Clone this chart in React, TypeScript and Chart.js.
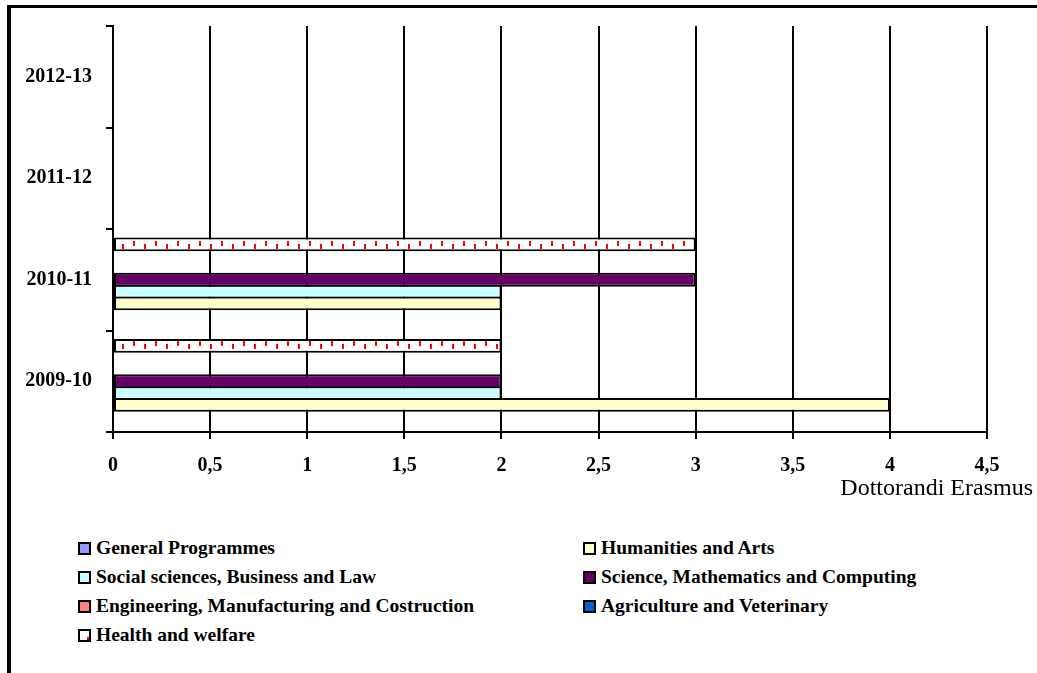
import React, { useEffect, useRef } from 'react';
import { Chart, registerables } from 'chart.js';

Chart.register(...registerables);

// Academic years, oldest first
const years = ['2009-10', '2010-11', '2011-12', '2012-13'];

// Erasmus PhD students per subject area, one value per year above
const generalProgrammes = [0, 0, 0, 0];
const humanitiesArts = [4, 2, 0, 0];
const socialSciences = [2, 2, 0, 0];
const scienceMath = [2, 3, 0, 0];
const engineering = [0, 0, 0, 0];
const agriculture = [0, 0, 0, 0];
const healthWelfare = [2, 3, 0, 0];

const xTickValues = [0, 0.5, 1, 1.5, 2, 2.5, 3, 3.5, 4, 4.5];
const xAxisTitle = 'Dottorandi Erasmus';

const seriesNames = [
  'General Programmes',
  'Humanities and Arts',
  'Social sciences, Business and Law',
  'Science, Mathematics and Computing',
  'Engineering, Manufacturing and Costruction',
  'Agriculture and Veterinary',
  'Health and welfare',
];
const seriesValues = [
  generalProgrammes,
  humanitiesArts,
  socialSciences,
  scienceMath,
  engineering,
  agriculture,
  healthWelfare,
];
const seriesColors = ['#9999FF', '#FFFFCC', '#CCFFFF', '#660066', '#FF8080', '#0066CC', 'pattern'];

const FONT = '"Liberation Serif", "Times New Roman", serif';

// White fill sprinkled with staggered red dashes
function makeConfettiPattern(): CanvasPattern | string {
  const tile = document.createElement('canvas');
  tile.width = 22;
  tile.height = 10;
  const ctx = tile.getContext('2d');
  if (!ctx) return '#ffffff';
  ctx.fillStyle = '#ffffff';
  ctx.fillRect(0, 0, 22, 10);
  ctx.fillStyle = '#ff0000';
  ctx.fillRect(1, 1, 2, 5);
  ctx.fillRect(12, 4, 2, 5);
  return ctx.createPattern(tile, 'repeat') || '#ffffff';
}

function BarChart() {
  const ref = useRef<HTMLCanvasElement>(null);

  useEffect(() => {
    if (!ref.current) return;
    const pattern = makeConfettiPattern();
    // Categories run top to bottom, newest year first
    const labels = [...years].reverse();
    // First dataset sits at the top of each group, so feed the series last-to-first
    const order = [6, 5, 4, 3, 2, 1, 0];
    const datasets = order.map((i) => ({
      label: seriesNames[i],
      data: [...seriesValues[i]].reverse(),
      backgroundColor: seriesColors[i] === 'pattern' ? pattern : seriesColors[i],
      borderColor: '#000000',
      borderWidth: 2,
      borderSkipped: false as const,
      inflateAmount: 0,
      barPercentage: 14 / 12,
      categoryPercentage: 84 / 103,
    }));

    const chart = new Chart(ref.current, {
      type: 'bar',
      data: { labels, datasets },
      options: {
        indexAxis: 'y',
        animation: false,
        responsive: false,
        devicePixelRatio: 1,
        layout: { padding: { top: 20, right: 50, left: 0, bottom: 0 } },
        plugins: {
          legend: { display: false },
          tooltip: { enabled: false },
          title: { display: false },
        },
        scales: {
          x: {
            type: 'linear',
            min: 0,
            max: 4.5,
            afterBuildTicks: (scale: any) => {
              scale.ticks = xTickValues.map((v) => ({ value: v }));
            },
            afterFit: (scale: any) => {
              scale.height = 48;
            },
            grid: {
              color: '#000000',
              lineWidth: 2,
              drawTicks: true,
              tickLength: 7,
              tickColor: '#000000',
            },
            border: { display: true, color: '#000000', width: 2 },
            ticks: {
              color: '#000000',
              padding: 15,
              font: { family: FONT, size: 20, weight: 'bold' },
              callback: (v: any) => String(v).replace('.', ','),
            },
          },
          y: {
            type: 'category',
            afterFit: (scale: any) => {
              scale.width = 113;
            },
            grid: {
              offset: true,
              drawOnChartArea: false,
              drawTicks: true,
              tickLength: 7,
              color: '#000000',
              tickColor: '#000000',
              lineWidth: 2,
            },
            border: { display: true, color: '#000000', width: 2 },
            ticks: {
              color: '#000000',
              padding: 14,
              font: { family: FONT, size: 20, weight: 'bold' },
            },
          },
        },
      },
    });
    return () => chart.destroy();
  }, []);

  return (
    <canvas
      ref={ref}
      width={1037}
      height={480}
      style={{ position: 'absolute', left: 0, top: 0, width: 1037, height: 480, display: 'block' }}
    />
  );
}

function LegendBox({ index }: { index: number }) {
  const color = seriesColors[index];
  const isPattern = color === 'pattern';
  return (
    <div
      style={{
        position: 'absolute',
        left: 0,
        top: -6.5,
        width: 13,
        height: 13,
        boxSizing: 'border-box',
        border: '2px solid #000',
        background: isPattern ? '#ffffff' : color,
      }}
    >
      {isPattern && (
        <div style={{ position: 'absolute', right: 0, bottom: 0, width: 2, height: 3, background: '#ff0000' }} />
      )}
    </div>
  );
}

export default function App() {
  return (
    <div
      style={{
        position: 'absolute',
        left: 0,
        top: 0,
        width: 1037,
        height: 673,
        overflow: 'hidden',
        background: '#ffffff',
        fontFamily: FONT,
      }}
    >
      {/* page frame */}
      <div style={{ position: 'absolute', left: 7, top: 5, width: 1030, height: 3, background: '#000' }} />
      <div style={{ position: 'absolute', left: 7, top: 5, width: 4, height: 668, background: '#000' }} />

      <BarChart />

      <div
        style={{
          position: 'absolute',
          left: 733,
          top: 475,
          width: 300,
          textAlign: 'right',
          fontSize: 24,
          lineHeight: '24px',
          color: '#000',
          whiteSpace: 'nowrap',
        }}
      >
        {xAxisTitle}
      </div>

      {seriesNames.map((name, i) => {
        const col = i % 2;
        const row = Math.floor(i / 2);
        const x = col === 0 ? 78 : 583;
        const y = 548 + row * 29;
        return (
          <div key={name} style={{ position: 'absolute', left: x, top: y, height: 0 }}>
            <LegendBox index={i} />
            <div
              style={{
                position: 'absolute',
                left: 18,
                top: -12,
                fontSize: 19.5,
                lineHeight: '24px',
                fontWeight: 'bold',
                whiteSpace: 'nowrap',
                color: '#000',
              }}
            >
              {name}
            </div>
          </div>
        );
      })}
    </div>
  );
}
